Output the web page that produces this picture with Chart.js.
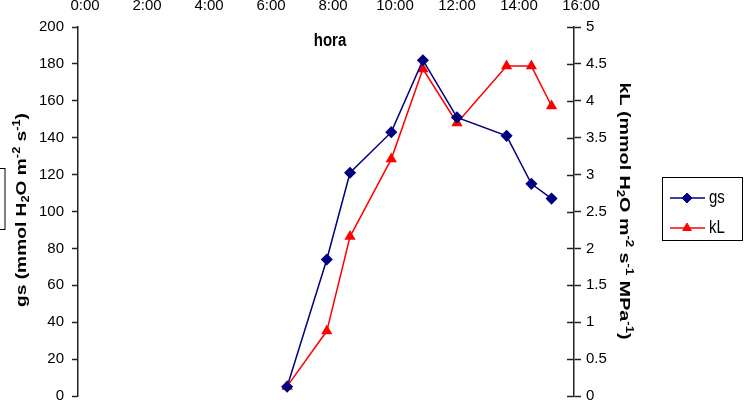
<!DOCTYPE html>
<html>
<head>
<meta charset="utf-8">
<script src="https://cdn.jsdelivr.net/npm/chart.js@4.4.1/dist/chart.umd.min.js"></script>
<style>
  html, body { margin: 0; padding: 0; background: #fff; }
  #wrap { width: 744px; height: 403px; position: relative; }
</style>
</head>
<body>
<div id="wrap"><canvas id="chart_area" width="744" height="403"></canvas></div>
<script>
// hours of day (decimal)
const hours = [6.52, 7.8, 8.55, 9.88, 10.9, 12.0, 13.6, 14.4, 15.05];
// gs (mmol H2O m-2 s-1), left axis
const gsValues = [5, 74, 121, 143, 182, 151, 141, 115, 107];
// kL (mmol H2O m-2 s-1 MPa-1), right axis
const kLValues = [0.13, 0.88, 2.16, 3.21, 4.43, 3.70, 4.47, 4.47, 3.93];
const hourTicks = [0, 2, 4, 6, 8, 10, 12, 14, 16];
const seriesNames = ["gs", "kL"];

// axis titles with sub/superscripts: [text, 0 normal | 1 sup | -1 sub]
const gsTitle = [['gs (mmol H', 0], ['2', -1], ['O m', 0], ['-2', 1], [' s', 0], ['-1', 1], [')', 0]];
const kLTitle = [['kL (mmol H', 0], ['2', -1], ['O m', 0], ['-2', 1], [' s', 0], ['-1', 1], [' MPa', 0], ['-1', 1], [')', 0]];

const FONT = "'Liberation Sans', Arial, sans-serif";
const ctx = document.getElementById('chart_area').getContext('2d');

const toPoints = (xs, ys) => xs.map((x, i) => ({ x: x, y: ys[i] }));

function drawRich(c, parts, cx, cy, rot, length) {
  const big = 'bold 15px ' + FONT, small = 'bold 10px ' + FONT;
  let w = 0;
  parts.forEach(p => { c.font = p[1] ? small : big; w += c.measureText(p[0]).width; });
  c.save();
  c.translate(cx, cy);
  c.rotate(rot);
  c.scale(length / w, 1);
  c.textAlign = 'left';
  c.textBaseline = 'alphabetic';
  let x = -w / 2;
  parts.forEach(p => {
    c.font = p[1] ? small : big;
    const dy = p[1] === 1 ? -6 : (p[1] === -1 ? 3 : 0);
    c.fillText(p[0], x, 5 + dy);
    x += c.measureText(p[0]).width;
  });
  c.restore();
}

// text a bit taller than wide, like the source picture
function tallText(c, txt, x, y, font, align) {
  c.save();
  c.translate(x, y);
  c.scale(1, 1.2);
  c.font = font;
  c.textAlign = align;
  c.textBaseline = 'alphabetic';
  c.fillText(txt, 0, 0);
  c.restore();
}

// axis titles, "hora", left edge frame, inner right ticks and the boxed legend
const extras = {
  id: 'extras',
  afterDraw(chart) {
    const c = chart.ctx;
    c.save();
    c.fillStyle = '#000';
    drawRich(c, gsTitle, 21, 210, -Math.PI / 2, 194);
    drawRich(c, kLTitle, 625, 211, Math.PI / 2, 257);

    tallText(c, 'hora', 330, 46, 'bold 15px ' + FONT, 'center');

    c.strokeStyle = '#000';
    c.lineWidth = 1;
    c.strokeRect(-2, 168.5, 7, 61);

    // inner half of right axis tick marks
    const y1 = chart.scales.y1;
    c.strokeStyle = '#222';
    c.lineWidth = 1.5;
    y1.ticks.forEach(t => {
      const py = Math.round(y1.getPixelForValue(t.value)) + 0.5;
      c.beginPath();
      c.moveTo(chart.chartArea.right - 7, py);
      c.lineTo(chart.chartArea.right, py);
      c.stroke();
    });

    // legend
    c.lineWidth = 1;
    c.strokeStyle = '#000';
    c.strokeRect(662.5, 177.5, 80, 63);
    const rows = [198, 228];
    chart.data.datasets.forEach((ds, i) => {
      const y = rows[i];
      c.strokeStyle = ds.borderColor;
      c.lineWidth = ds.borderWidth;
      c.beginPath();
      c.moveTo(670, y);
      c.lineTo(705, y);
      c.stroke();
      c.fillStyle = ds.pointBackgroundColor;
      c.strokeStyle = ds.pointBorderColor;
      c.lineWidth = 1;
      Chart.helpers.drawPoint(c, { pointStyle: ds.pointStyle, radius: ds.pointRadius, borderWidth: 1, rotation: 0 }, 687, y);
      c.fillStyle = '#000';
      tallText(c, ds.label, 709, y + 5, '15px ' + FONT, 'left');
    });
    c.restore();
  }
};

const chart = new Chart(ctx, {
  type: 'line',
  data: {
    datasets: [{
      label: seriesNames[0],
      data: toPoints(hours, gsValues),
      borderColor: '#000080',
      backgroundColor: '#000080',
      pointBackgroundColor: '#000080',
      pointBorderColor: '#000080',
      borderWidth: 1.5,
      pointStyle: 'rectRot',
      pointRadius: 5,
      tension: 0,
      yAxisID: 'y',
    }, {
      label: seriesNames[1],
      data: toPoints(hours, kLValues),
      borderColor: '#ff0000',
      backgroundColor: '#ff0000',
      pointBackgroundColor: '#ff0000',
      pointBorderColor: '#ff0000',
      borderWidth: 1.5,
      pointStyle: 'triangle',
      pointRadius: 5,
      tension: 0,
      yAxisID: 'y1',
    }]
  },
  options: {
    responsive: false,
    animation: false,
    layout: { padding: { left: 0, right: 106, top: 0, bottom: 7 } },
    plugins: { legend: { display: false }, tooltip: { enabled: false } },
    scales: {
      x: {
        type: 'linear',
        position: 'top',
        min: -7 / 31,
        max: 16 - 7 / 31,
        afterBuildTicks: (s) => { s.ticks = hourTicks.map(v => ({ value: v })); },
        afterFit: (s) => { s.height = 27; s.paddingLeft = 0; s.paddingRight = 0; },
        grid: { display: false, drawTicks: false },
        border: { display: false },
        ticks: {
          autoSkip: false, maxRotation: 0, padding: 12, color: '#000',
          font: { family: FONT, size: 15 },
          callback: (v) => v + ':00'
        }
      },
      y: {
        position: 'left',
        min: 0, max: 200,
        afterFit: (s) => { s.width = 78; s.paddingTop = 0; s.paddingBottom = 0; },
        grid: { drawOnChartArea: false, tickLength: 6, tickColor: '#222', tickWidth: 1.5 },
        border: { color: '#222', width: 1.5 },
        ticks: { stepSize: 20, padding: 8, color: '#000', font: { family: FONT, size: 15 } }
      },
      y1: {
        position: 'right',
        min: 0, max: 5,
        afterFit: (s) => { s.width = 64; s.paddingTop = 0; s.paddingBottom = 0; },
        grid: { drawOnChartArea: false, tickLength: 7, tickColor: '#222', tickWidth: 1.5 },
        border: { color: '#222', width: 1.5 },
        ticks: {
          stepSize: 0.5, padding: 5, color: '#000', font: { family: FONT, size: 15 },
          callback: (v) => String(v)
        }
      }
    }
  },
  plugins: [extras]
});
</script>
</body>
</html>
